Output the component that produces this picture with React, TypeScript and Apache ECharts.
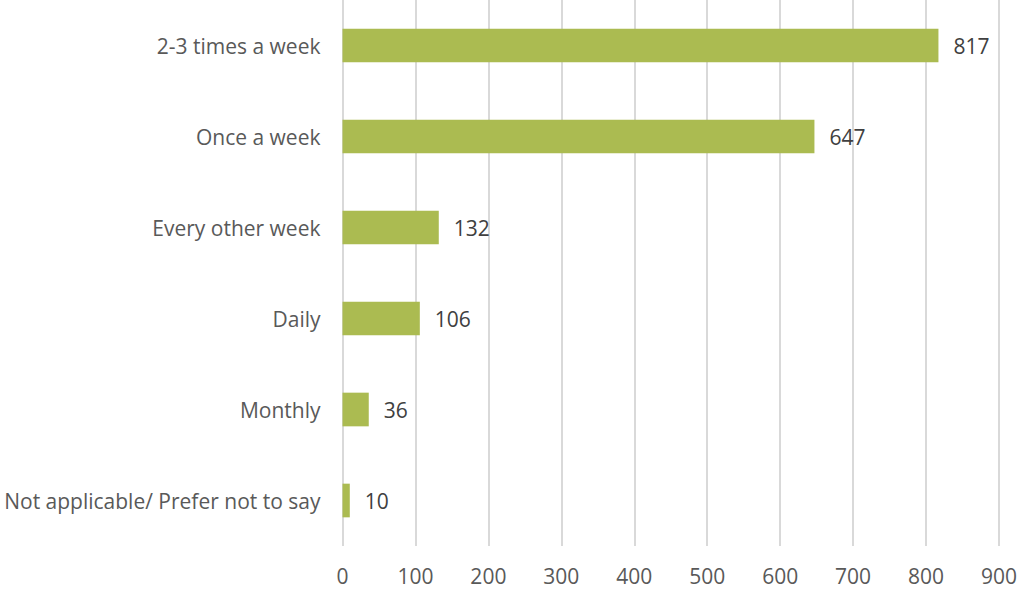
import React, { useEffect, useRef } from "react";
import * as echarts from "echarts";

const categories = [
  "Not applicable/ Prefer not to say",
  "Monthly",
  "Daily",
  "Every other week",
  "Once a week",
  "2-3 times a week",
];
const values = [10, 36, 106, 132, 647, 817];
const axisMax = 900;
const axisInterval = 100;

export default function App() {
  const ref = useRef<HTMLDivElement>(null);
  useEffect(() => {
    const chart = echarts.init(ref.current!, null, { renderer: "svg" });
    chart.setOption({
      animation: false,
      textStyle: { fontFamily: "Open Sans" },
      grid: { left: 342.5, right: 18.5, top: 0, bottom: 44, containLabel: false },
      xAxis: {
        type: "value",
        min: 0,
        max: axisMax,
        interval: axisInterval,
        axisLine: { show: false },
        axisTick: { show: false },
        splitLine: { show: true, lineStyle: { color: "#d9d9d9", width: 2 } },
        axisLabel: { color: "#595959", fontSize: 21, margin: 19, fontFamily: "Open Sans" },
      },
      yAxis: {
        type: "category",
        data: categories,
        axisLine: { show: false },
        axisTick: { show: false },
        axisLabel: { color: "#595959", fontSize: 21, margin: 22, fontFamily: "Open Sans" },
      },
      series: [
        {
          type: "bar",
          data: values,
          barWidth: "37%",
          itemStyle: { color: "#abbb51" },
          label: {
            show: true,
            position: "right",
            distance: 15,
            color: "#404040",
            fontSize: 21,
            fontFamily: "Open Sans",
          },
        },
      ],
    });
    return () => chart.dispose();
  }, []);
  return (
    <div
      ref={ref}
      style={{ position: "fixed", left: 0, top: 0, width: 1020, height: 590, background: "#fff" }}
    />
  );
}
